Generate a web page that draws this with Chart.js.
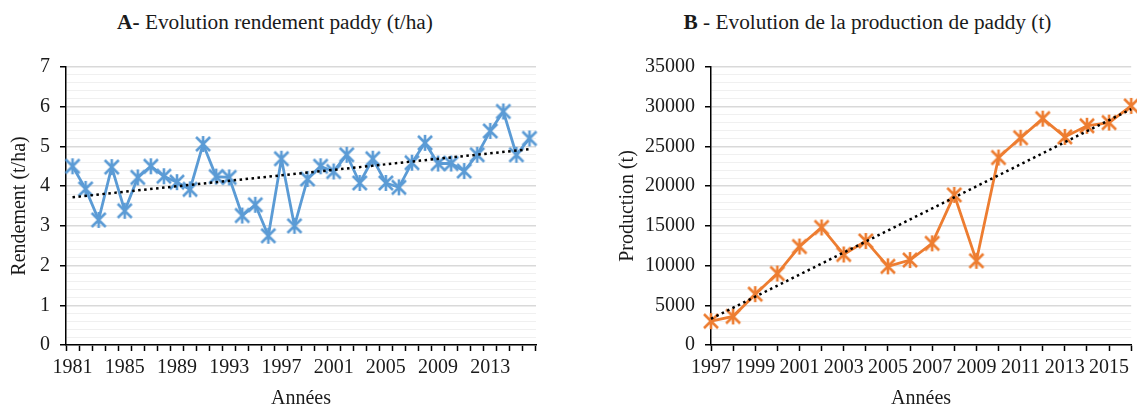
<!DOCTYPE html>
<html>
<head>
<meta charset="utf-8">
<script src="https://cdn.jsdelivr.net/npm/chart.js@4.4.1/dist/chart.umd.min.js"></script>
<style>
  html, body { margin: 0; padding: 0; background: #fff; }
  #wrap { position: relative; width: 1137px; height: 407px; overflow: hidden; }
  canvas { position: absolute; top: 0; }
  .chart-title {
    position: absolute;
    top: 9px;
    height: 26px;
    line-height: 26px;
    text-align: center;
    font-family: "Liberation Serif", serif;
    font-size: 21.3px;
    color: #1a1a1a;
    white-space: nowrap;
  }
</style>
</head>
<body>
<div id="wrap">
  <div class="chart-title" style="left:0;width:550px;"><b>A-</b> Evolution rendement paddy (t/ha)</div>
  <div class="chart-title" style="left:600px;width:535px;"><b>B</b> - Evolution de la production de paddy (t)</div>
  <canvas id="chart-a" width="560" height="407" style="left:0;"></canvas>
  <canvas id="chart-b" width="583" height="407" style="left:560px;"></canvas>
</div>
<script>
const yearsA = [
  "1981", "1982", "1983", "1984", "1985", "1986", "1987", "1988", "1989", "1990",
  "1991", "1992", "1993", "1994", "1995", "1996", "1997", "1998", "1999", "2000",
  "2001", "2002", "2003", "2004", "2005", "2006", "2007", "2008", "2009", "2010",
  "2011", "2012", "2013", "2014", "2015", "2016"
];
const rendement = [
  4.5, 3.93, 3.15, 4.48, 3.38, 4.22, 4.5, 4.25, 4.1, 3.92,
  5.06, 4.24, 4.22, 3.26, 3.53, 2.75, 4.69, 3.0, 4.18, 4.5,
  4.37, 4.79, 4.08, 4.69, 4.08, 3.97, 4.59, 5.09, 4.57, 4.57,
  4.38, 4.79, 5.39, 5.88, 4.79, 5.2
];
const trendA = [3.72, 4.93];

const yearsB = [
  "1997", "1998", "1999", "2000", "2001", "2002", "2003", "2004", "2005", "2006",
  "2007", "2008", "2009", "2010", "2011", "2012", "2013", "2014", "2015", "2016"
];
const production = [
  3000, 3600, 6400, 9000, 12400, 14800, 11400, 13100, 9900, 10700,
  12800, 18900, 10600, 23600, 26100, 28500, 26200, 27600, 28000, 30100
];
const trendB = [3300, 29700];

const FONT_FAMILY = "'Liberation Serif', 'Times New Roman', serif";
const TEXT_COLOR = "#1a1a1a";
const BLUE = "#5b9bd5";
const ORANGE = "#ed7d31";

// Excel style star marker: an X with a vertical bar
function makeStarMarker(color) {
  const size = 18;
  const c = document.createElement("canvas");
  c.width = size;
  c.height = size;
  const ctx = c.getContext("2d");
  ctx.strokeStyle = color;
  ctx.lineWidth = 2.6;
  ctx.lineCap = "butt";
  ctx.beginPath();
  ctx.moveTo(2, 2);
  ctx.lineTo(16, 16);
  ctx.moveTo(16, 2);
  ctx.lineTo(2, 16);
  ctx.moveTo(9, 1);
  ctx.lineTo(9, 17);
  ctx.stroke();
  return c;
}

// trend is drawn from first to last point only
function trendSeries(length, ends) {
  const data = new Array(length).fill(null);
  data[0] = ends[0];
  data[length - 1] = ends[1];
  return data;
}

function isMultiple(value, step) {
  return Math.abs(value / step - Math.round(value / step)) < 1e-6;
}

function buildOptions({ labelEvery, offset, yMax, yStep, yMajor, yWidth, yTitle, yTitlePad, padRight, labels }) {
  const font = { family: FONT_FAMILY, size: 20 };
  return {
    responsive: false,
    animation: false,
    layout: {
      padding: { top: 67, right: padRight, left: 0, bottom: 0 }
    },
    plugins: {
      legend: { display: false },
      tooltip: { enabled: false }
    },
    scales: {
      x: {
        type: "category",
        offset,
        afterFit(scale) {
          scale.height = 62;
        },
        grid: {
          offset,
          drawOnChartArea: false,
          drawTicks: true,
          tickLength: 6,
          tickColor: "#000",
          tickWidth: 1.5
        },
        border: { display: true, color: "#000", width: 1.5 },
        ticks: {
          autoSkip: false,
          maxRotation: 0,
          minRotation: 0,
          padding: 5,
          color: TEXT_COLOR,
          font,
          callback(value, index) {
            return index % labelEvery === 0 ? labels[index] : "";
          }
        },
        title: {
          display: true,
          text: "Années",
          color: TEXT_COLOR,
          font: { family: FONT_FAMILY, size: 20, lineHeight: 1 },
          padding: { top: 0, bottom: -2 }
        }
      },
      y: {
        min: 0,
        max: yMax,
        afterFit(scale) {
          scale.width = yWidth;
        },
        grid: {
          drawTicks: true,
          tickLength: 6,
          color(ctx) {
            return isMultiple(ctx.tick.value, yMajor) ? "#d9d9d9" : "#f0f0f0";
          },
          lineWidth(ctx) {
            return isMultiple(ctx.tick.value, yMajor) ? 1.5 : 1;
          },
          tickColor(ctx) {
            return isMultiple(ctx.tick.value, yMajor) ? "#000" : "rgba(0,0,0,0)";
          },
          tickWidth: 1.5
        },
        border: { display: true, color: "#000", width: 1.5 },
        ticks: {
          stepSize: yStep,
          autoSkip: false,
          padding: 10,
          color: TEXT_COLOR,
          font,
          callback(value) {
            return isMultiple(value, yMajor) ? String(Math.round(value)) : "";
          }
        },
        title: {
          display: true,
          text: yTitle,
          color: TEXT_COLOR,
          font,
          padding: { top: yTitlePad, bottom: 0 }
        }
      }
    }
  };
}

new Chart(document.getElementById("chart-a"), {
  type: "line",
  data: {
    labels: yearsA,
    datasets: [
      {
        label: "Tendance",
        data: trendSeries(yearsA.length, trendA),
        spanGaps: true,
        borderColor: "#000",
        borderWidth: 2.5,
        borderDash: [2.5, 3.5],
        pointRadius: 0,
        order: 0
      },
      {
        label: "Rendement",
        data: rendement,
        borderColor: BLUE,
        borderWidth: 2.8,
        pointStyle: makeStarMarker(BLUE),
        pointRadius: 9,
        tension: 0,
        order: 1
      }
    ]
  },
  options: buildOptions({
    labels: yearsA,
    labelEvery: 4,
    offset: true,
    yMax: 7,
    yStep: 0.2,
    yMajor: 1,
    yWidth: 66,
    yTitle: "Rendement (t/ha)",
    yTitlePad: 8,
    padRight: 24
  })
});

new Chart(document.getElementById("chart-b"), {
  type: "line",
  data: {
    labels: yearsB,
    datasets: [
      {
        label: "Tendance",
        data: trendSeries(yearsB.length, trendB),
        spanGaps: true,
        borderColor: "#000",
        borderWidth: 2.5,
        borderDash: [2.5, 3.5],
        pointRadius: 0,
        order: 0
      },
      {
        label: "Production",
        data: production,
        borderColor: ORANGE,
        borderWidth: 2.8,
        pointStyle: makeStarMarker(ORANGE),
        pointRadius: 9,
        tension: 0,
        order: 1
      }
    ]
  },
  options: buildOptions({
    labels: yearsB,
    labelEvery: 2,
    offset: false,
    yMax: 35000,
    yStep: 1000,
    yMajor: 5000,
    yWidth: 151,
    yTitle: "Production (t)",
    yTitlePad: 56,
    padRight: 0
  })
});
</script>
</body>
</html>
